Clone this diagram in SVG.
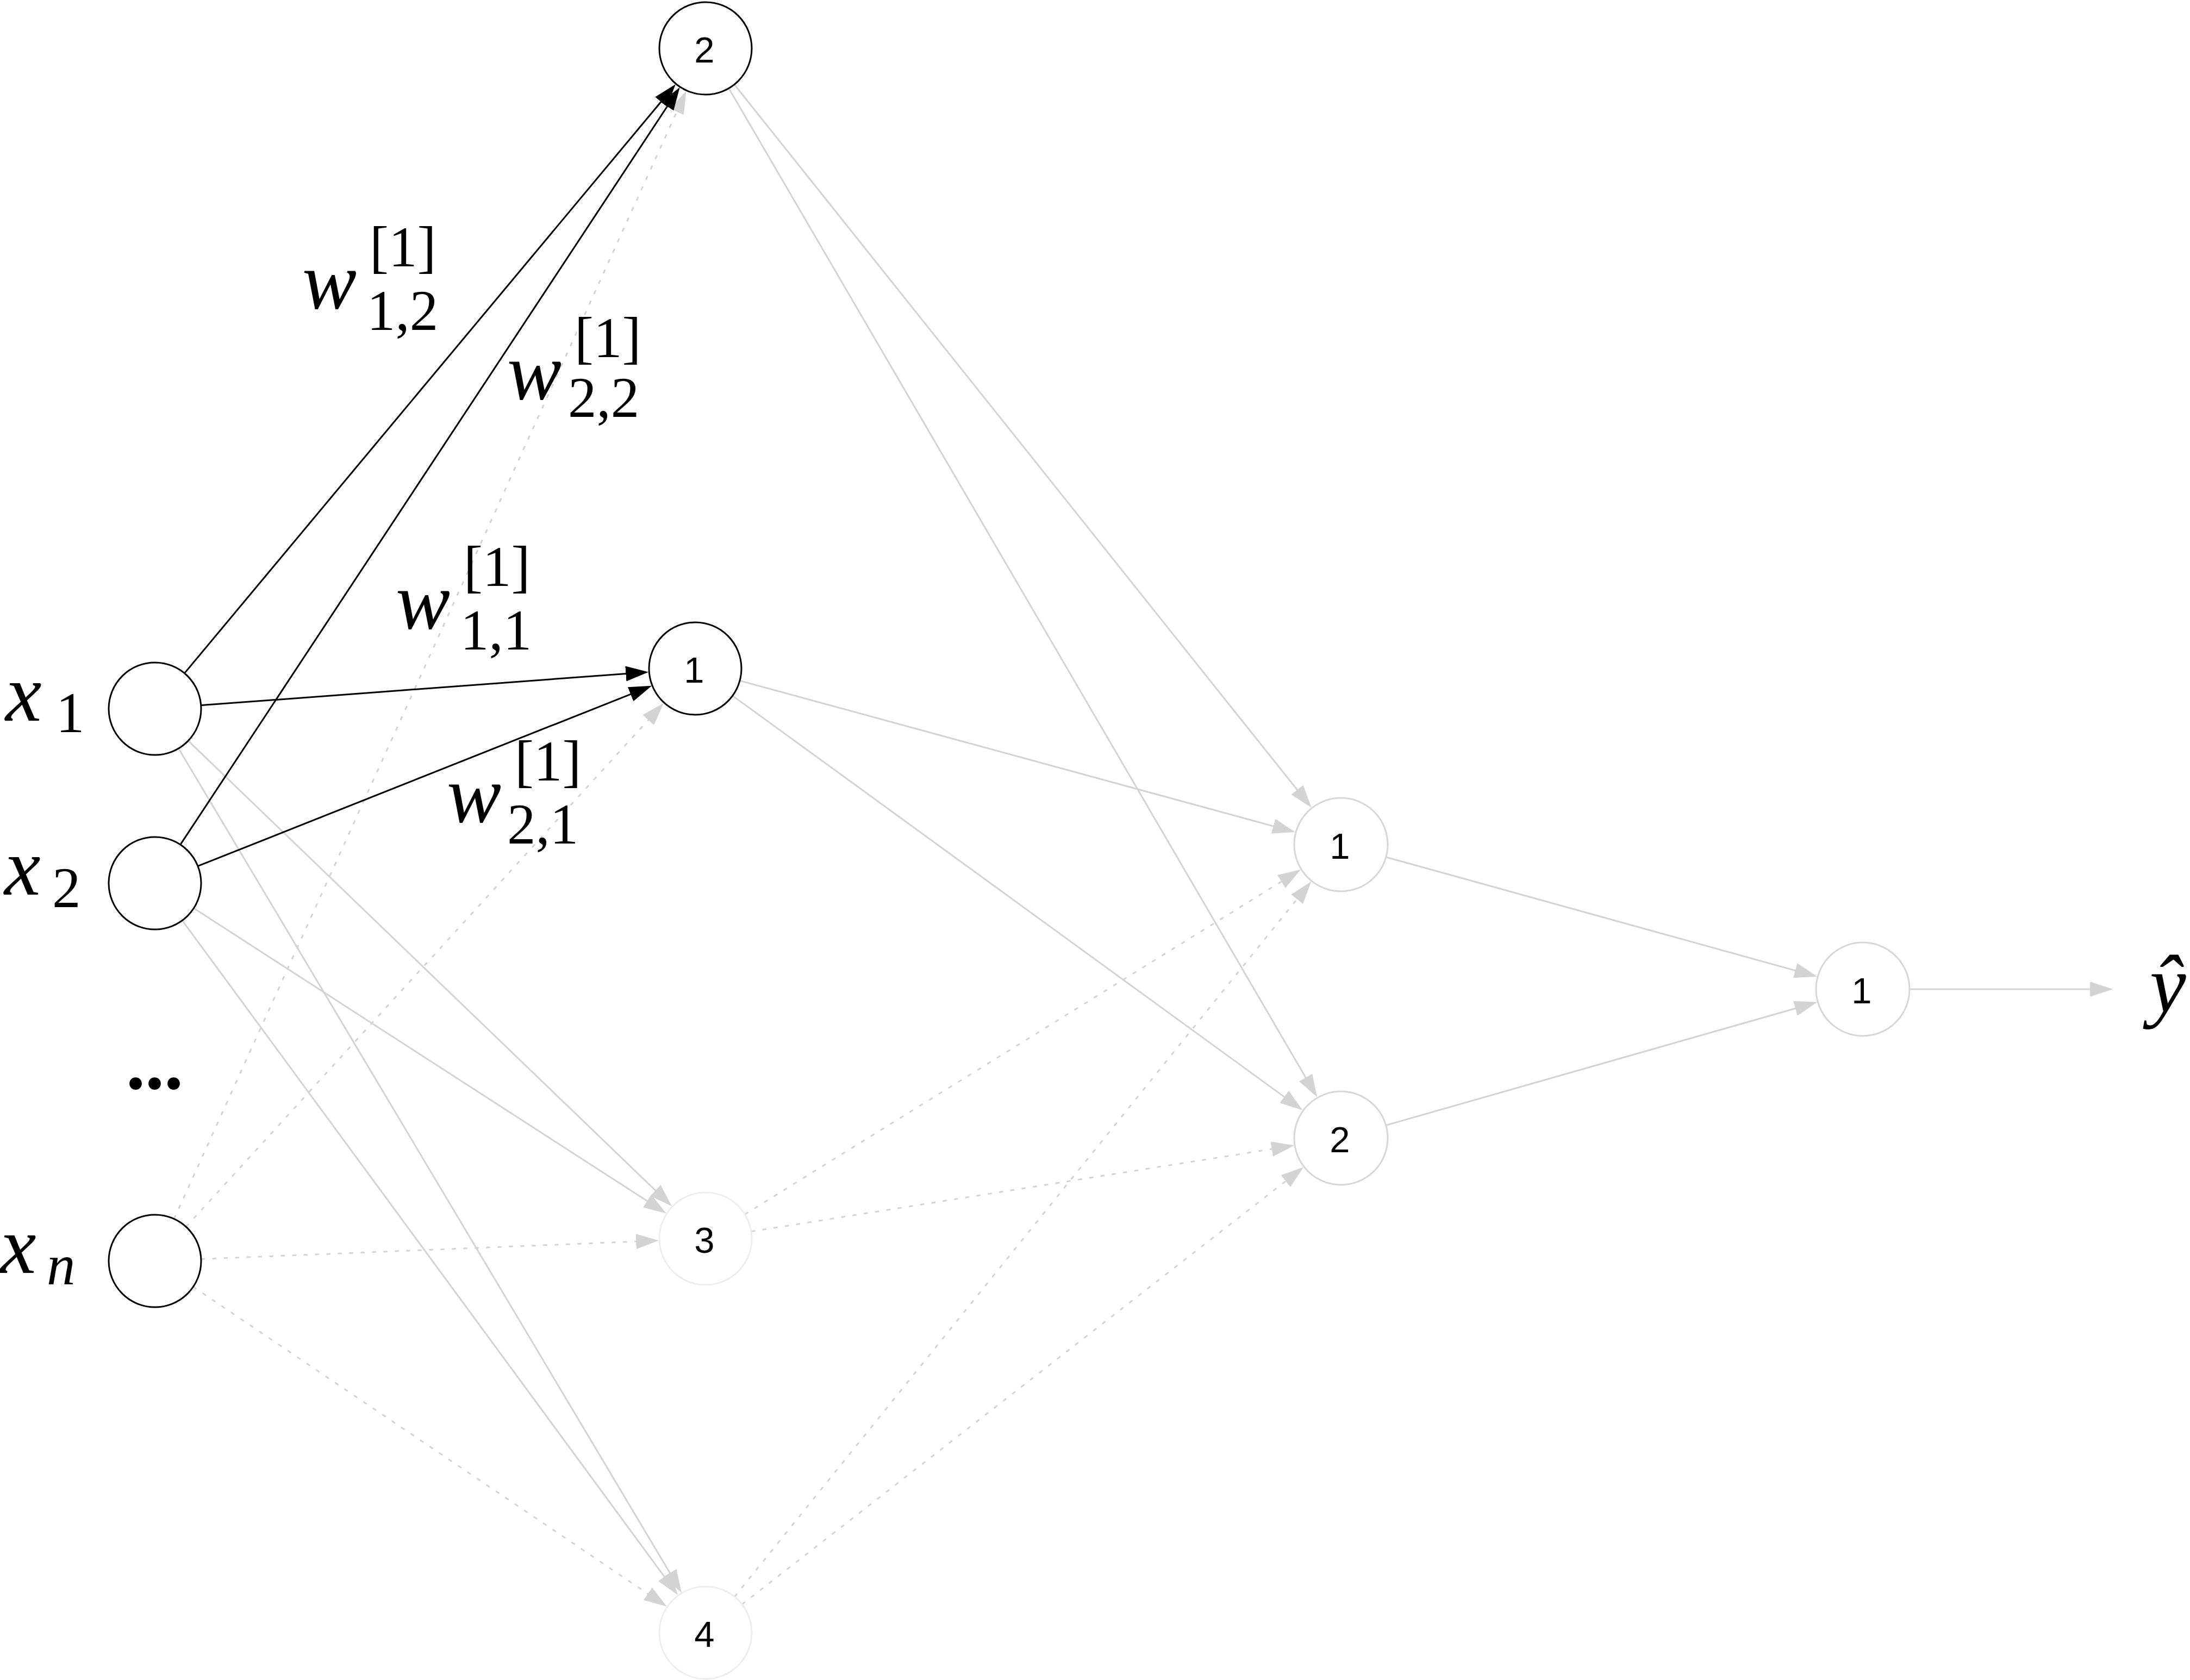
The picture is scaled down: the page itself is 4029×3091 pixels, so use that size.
<svg xmlns="http://www.w3.org/2000/svg" width="4029" height="3091" viewBox="0 0 4029 3091">
<style>
.e{fill:none;stroke-width:3}
.k{stroke:#000}
.g{stroke:#d3d3d3}
.d{stroke:#d3d3d3;stroke-dasharray:5 16;stroke-linecap:round}
.n{fill:#fff;stroke-width:3}
.nb{stroke:#000}
.ng{stroke:#d6d6d6}
.nl{stroke:#ededed}
.num{font-family:"Liberation Sans",Arial,sans-serif;font-size:67px;text-anchor:middle;fill:#000}
.m{font-family:"Liberation Serif","Times New Roman",serif;font-style:italic;font-size:150px;fill:#000}
.s{font-family:"Liberation Serif","Times New Roman",serif;font-size:105px;fill:#000}
</style>
<defs>
<marker id="ak" viewBox="0 0 42 28" refX="4" refY="14" markerWidth="42" markerHeight="28" markerUnits="userSpaceOnUse" orient="auto"><path d="M0,0 L42,14 L0,28 z" fill="#000"/></marker>
<marker id="ag" viewBox="0 0 42 28" refX="4" refY="14" markerWidth="42" markerHeight="28" markerUnits="userSpaceOnUse" orient="auto"><path d="M0,0 L42,14 L0,28 z" fill="#d3d3d3"/></marker>
</defs>
<rect width="4029" height="3091" fill="#fff"/>
<g id="connectors">
<line class="e d" x1="320.6" y1="2241.7" x2="1246.8" y2="201.9" marker-end="url(#ag)"/>
<line class="e d" x1="343.0" y1="2256.5" x2="1195.5" y2="1321.7" marker-end="url(#ag)"/>
<line class="e d" x1="370.9" y1="2316.5" x2="1174.1" y2="2284.0" marker-end="url(#ag)"/>
<line class="e d" x1="356.3" y1="2368.1" x2="1195.2" y2="2934.6" marker-end="url(#ag)"/>
<line class="e d" x1="1371.1" y1="2233.7" x2="2360.8" y2="1619.9" marker-end="url(#ag)"/>
<line class="e d" x1="1382.9" y1="2265.6" x2="2343.6" y2="2113.5" marker-end="url(#ag)"/>
<line class="e d" x1="1352.0" y1="2937.1" x2="2388.6" y2="1651.3" marker-end="url(#ag)"/>
<line class="e d" x1="1365.9" y1="2951.2" x2="2368.4" y2="2170.7" marker-end="url(#ag)"/>
<line class="e g" x1="347.0" y1="1363.6" x2="1208.6" y2="2193.0" marker-end="url(#ag)"/>
<line class="e g" x1="357.3" y1="1671.6" x2="1193.9" y2="2211.8" marker-end="url(#ag)"/>
<line class="e g" x1="329.0" y1="1377.9" x2="1234.5" y2="2897.5" marker-end="url(#ag)"/>
<line class="e g" x1="335.9" y1="1694.3" x2="1224.6" y2="2904.1" marker-end="url(#ag)"/>
<line class="e g" x1="1351.6" y1="156.2" x2="2389.0" y2="1456.3" marker-end="url(#ag)"/>
<line class="e g" x1="1341.3" y1="163.3" x2="2404.1" y2="1986.0" marker-end="url(#ag)"/>
<line class="e g" x1="1362.0" y1="1252.6" x2="2346.4" y2="1521.1" marker-end="url(#ag)"/>
<line class="e g" x1="1348.5" y1="1280.6" x2="2365.9" y2="2020.4" marker-end="url(#ag)"/>
<line class="e g" x1="2550.8" y1="1577.2" x2="3306.6" y2="1786.7" marker-end="url(#ag)"/>
<line class="e g" x1="2550.7" y1="2070.1" x2="3306.8" y2="1854.3" marker-end="url(#ag)"/>
<line class="e g" x1="3512" y1="1820" x2="3849" y2="1820" marker-end="url(#ag)"/>
<line class="e k" x1="340.1" y1="1237.9" x2="1218.6" y2="184.3" marker-end="url(#ak)"/>
<line class="e k" x1="332.4" y1="1553.2" x2="1229.7" y2="192.5" marker-end="url(#ak)"/>
<line class="e k" x1="370.8" y1="1297.6" x2="1155.3" y2="1239.2" marker-end="url(#ak)"/>
<line class="e k" x1="364.9" y1="1593.2" x2="1163.8" y2="1275.8" marker-end="url(#ak)"/>
</g>
<g id="x1"><circle class="n nb" cx="285" cy="1304" r="85"/><text class="m" x="10" y="1326">x</text><text class="s" x="103" y="1347">1</text></g>
<g id="x2"><circle class="n nb" cx="285" cy="1625" r="85"/><text class="m" x="8" y="1646">x</text><text class="s" x="96" y="1669">2</text></g>
<g id="dots"><text x="232" y="2003" style="font-family:'Liberation Serif',serif;font-weight:bold;font-size:140px">...</text></g>
<g id="xn"><circle class="n nb" cx="285" cy="2320" r="85"/><text class="m" x="0" y="2342">x</text><text class="s" x="86" y="2363" font-style="italic">n</text></g>
<g id="h2"><circle class="n nb" cx="1298" cy="89" r="85"/><text class="num" x="1296" y="115">2</text></g>
<g id="h1"><circle class="n nb" cx="1279" cy="1230" r="85"/><text class="num" x="1277" y="1256">1</text></g>
<g id="h3"><circle class="n nl" cx="1298" cy="2279" r="85"/><text class="num" x="1296" y="2305">3</text></g>
<g id="h4"><circle class="n nl" cx="1298" cy="3004" r="85"/><text class="num" x="1296" y="3030">4</text></g>
<g id="l2a"><circle class="n ng" cx="2467" cy="1554" r="86"/><text class="num" x="2465" y="1580">1</text></g>
<g id="l2b"><circle class="n ng" cx="2467" cy="2094" r="86"/><text class="num" x="2465" y="2120">2</text></g>
<g id="out"><circle class="n ng" cx="3427" cy="1820" r="86"/><text class="num" x="3425" y="1846">1</text></g>
<g id="yhat"><text class="m" x="3955" y="1862">ŷ</text></g>
<g id="w12"><text class="m" x="556" y="568">w</text><text class="s" x="680" y="490">[1]</text><text class="s" x="675" y="607">1,2</text></g>
<g id="w22"><text class="m" x="933" y="735">w</text><text class="s" x="1057" y="657">[1]</text><text class="s" x="1045" y="767">2,2</text></g>
<g id="w11"><text class="m" x="728" y="1157">w</text><text class="s" x="853" y="1078">[1]</text><text class="s" x="847" y="1195">1,1</text></g>
<g id="w21"><text class="m" x="822" y="1513">w</text><text class="s" x="947" y="1436">[1]</text><text class="s" x="933" y="1552">2,1</text></g>
</svg>
